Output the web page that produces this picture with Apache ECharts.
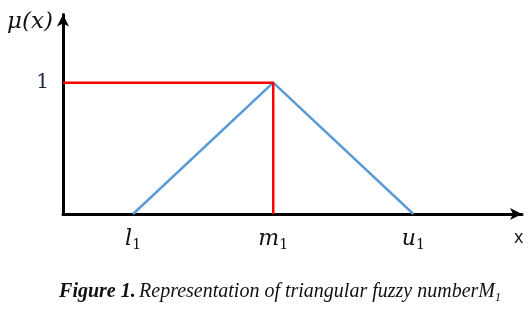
<!DOCTYPE html>
<html><head><meta charset="utf-8">
<script src="https://cdn.jsdelivr.net/npm/echarts@6/dist/echarts.min.js"></script>
<style>html,body{margin:0;padding:0;background:#fff}#c{width:530px;height:316px}</style>
</head><body><div id="c"></div>
<script>
// Data
const xTickNames = {1: 'l', 3: 'm', 5: 'u'};
const xTickSub = '1';
const yTickNames = {1: '1'};
const membership = [[1, 0], [3, 1], [5, 0]];      // triangular membership (l1, m1, u1)
const peakGuide = [[0, 1], [3, 1], [3, 0]];       // red guide lines to peak
const xAxisLabel = 'x';
const yAxisLabel = 'μ(x)';
const caption = ['Figure 1.', 'Representation of triangular fuzzy numberM', '1'];

const chart = echarts.init(document.getElementById('c'));
chart.setOption({
  animation: false,
  grid: {left: 63, right: 8, top: 14.4, bottom: 102},
  xAxis: {
    type: 'value', min: 0, max: 6.55, interval: 1,
    splitLine: {show: false}, axisTick: {show: false},
    axisLine: {lineStyle: {color: '#000', width: 3}, symbol: ['none', 'arrow'], symbolSize: [9, 12]},
    axisLabel: {
      margin: 12, showMaxLabel: false,
      formatter: v => xTickNames[v] ? '{i|' + xTickNames[v] + '}{s|' + xTickSub + '}' : '',
      rich: {
        i: {fontFamily: 'DejaVu Serif', fontStyle: 'italic', fontSize: 22, lineHeight: 26, color: '#111'},
        s: {fontFamily: 'DejaVu Serif', fontSize: 14, lineHeight: 14, verticalAlign: 'bottom', color: '#111'}
      }
    }
  },
  yAxis: {
    type: 'value', min: 0, max: 1.52, interval: 1,
    splitLine: {show: false}, axisTick: {show: false},
    axisLine: {lineStyle: {color: '#000', width: 3}, symbol: ['none', 'arrow'], symbolSize: [9, 12]},
    axisLabel: {
      margin: 14, showMaxLabel: false,
      formatter: v => yTickNames[v] || '',
      fontFamily: 'DejaVu Serif', fontSize: 20, color: '#1a2540'
    }
  },
  series: [
    {type: 'line', data: membership, symbol: 'none', lineStyle: {color: '#5b9bd5', width: 2.5}, z: 3},
    {type: 'line', data: peakGuide, symbol: 'none', lineStyle: {color: '#ff0000', width: 2.5}, z: 4}
  ],
  graphic: [
    {type: 'text', left: 7, top: 11, style: {text: yAxisLabel, font: 'italic 23px "DejaVu Serif"', fill: '#111'}},
    {type: 'text', left: 514, top: 229, style: {text: xAxisLabel, font: '18px "Open Sans"', fill: '#111'}},
    {type: 'text', x: 280, y: 292, style: {
      text: '{b|' + caption[0] + '} {i|' + caption[1] + '}{s|' + caption[2] + '}',
      align: 'center', verticalAlign: 'middle',
      rich: {
        b: {font: 'italic bold 20px "Liberation Serif"', fill: '#111', lineHeight: 24},
        i: {font: 'italic 20px "Liberation Serif"', fill: '#111', lineHeight: 24},
        s: {font: 'italic 12px "Liberation Serif"', fill: '#111', lineHeight: 12, verticalAlign: 'bottom'}
      }
    }}
  ]
});
</script></body></html>
